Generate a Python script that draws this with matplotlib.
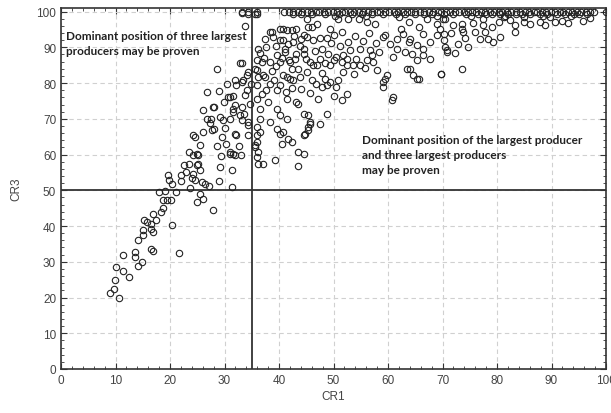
import matplotlib
matplotlib.use("Agg")
import matplotlib.pyplot as plt
from matplotlib.ticker import MultipleLocator

# concentration ratios (CR1 = largest producer, CR3 = three largest)
cr1_low = [8.9, 9.7, 9.9, 10, 10.6, 11.4, 12.4, 14.1, 14.8, 11.4, 13.6, 13.6, 14.1, 15, 15, 15.3,
           15.7, 16.6, 16.9, 16.6, 16.9, 17.5, 18.3, 18.8, 16.6, 16.9, 20.4, 21.7, 18, 19, 18.8,
           19.4, 20.1, 21.1, 19.7, 19.8, 20.3, 22, 22.1, 22.6, 22.9, 23.7, 24, 24.3, 24.6, 24.9,
           25.2, 25.5, 25.8, 26.4, 27.2, 25, 25.5, 26, 27.9, 28.9, 29.2, 31.3, 31.4, 31, 31.9, 33,
           25.2, 23.5, 24.3, 23.4, 24.9]
cr3_low = [21.3, 22.4, 25, 28.6, 20, 27.3, 25.7, 28.8, 30, 31.8, 32.7, 31.3, 36.2, 37.4, 39, 41.7,
           41, 40.6, 43.4, 39.2, 38.3, 41.6, 43.9, 45.1, 33.6, 33, 40.3, 32.4, 49.5, 49.8, 47.3,
           47.3, 47.3, 49.5, 54.3, 53, 51.8, 54.2, 52.6, 57, 55.1, 50.7, 53.4, 54.6, 52.8, 57,
           59.9, 55.6, 52.3, 51.8, 51.2, 46.7, 49, 47.6, 44.4, 52.6, 56.5, 55.6, 50.8, 60.2, 59.9, 59.8,
           57.3, 57.4, 59.8, 60.7, 60.2]

cr1_left = [33.8, 28.7, 32.8, 33.3, 26.7, 26.1, 28, 27.6, 29.2, 29.8, 28, 26.1, 24.6, 25.5, 29.5,
            32.2, 31, 31.6, 32.8, 33.2, 31, 31.6, 32.2, 31.9, 33.4, 34.1, 34.4, 34.4, 34.4, 31,
            31.6, 33.3, 34.4, 27.7, 30.7, 33.2, 34.1, 27.9, 31.9, 33.5, 33.2, 31.6, 26.7, 24.3,
            31.9, 34.4, 28.9, 29.9, 30.4, 30.1, 28.7, 27.3, 29.4, 30.3, 32.7, 33.7, 34.6, 34.9]
cr3_left = [96, 83.9, 85.7, 85.7, 77.5, 72.4, 73.3, 70, 70.5, 69.6, 67.2, 66.3, 64.9, 62.6, 64.9,
            65.4, 70, 71.9, 71, 73.3, 76, 76.5, 79.4, 80.8, 80.8, 78, 83.1, 69.1, 65.4, 60.7,
            60.2, 99.7, 99.4, 66.8, 76.1, 80.3, 82.2, 73.4, 73.8, 71.4, 69.6, 72.8, 70, 65.4,
            65.8, 68.2, 77.8, 74.6, 79.8, 67.4, 62.5, 68.8, 59.6, 62.9, 62.4, 76.7, 74.2, 79.6]

cr1_mid = [35.6, 35.9, 35.9, 35.6, 36.8, 37.7, 38.3, 40.2, 41.4, 40.8, 41.7, 41.1, 39.6, 38.3,
           40.2, 42, 43.2, 44.5, 45.1, 45.4, 43.2, 42.3, 43.5, 45.1, 46.3, 46, 43.9, 42.6, 41.4,
           39, 37.4, 36.2, 35.9, 37.7, 39.6, 35.9, 38, 36.5, 39.6, 41.4, 43.2, 40.2, 41.4, 36.5,
           35.9, 36.5, 35.9, 36.2, 39.6, 40.8, 44.8, 45.7, 45.4, 43.5, 47.2, 35.9, 35.6, 36.2,
           37.1, 39.3, 40.2, 40.5, 41.7, 42.3, 44.5, 44.5, 43.5, 45.4, 35.9, 38.7, 38.9, 40.8,
           42.3, 45.1, 46.9, 46, 49.4, 44.5, 46.3, 47.5, 48.8, 44.5, 44, 42.6, 41.1, 40.2, 48.4,
           48.8, 47.8, 43.5, 44.5, 48.8, 45.7, 47.5, 45.4, 38.3, 40.8, 42, 37.1, 35.9, 45.7,
           46.9, 47.5, 48.4, 49.4, 35.6,
           36.5, 37.2, 38.8, 39.5, 40.6, 41.8, 42.9, 43.8, 44.9, 46.6, 47.9, 48.9, 49.5, 36.9,
           38.3, 40.1, 41.2, 42.4, 44.1, 45.6, 46.8, 47.9, 49.3, 37.5, 39.4, 42.7, 36.2]
cr3_mid = [99.4, 99.4, 86.4, 84, 85.9, 90, 94.3, 95.2, 94.8, 92, 91, 88.7, 87.8, 85.9,
           85.9, 85.9, 88.2, 88.2, 92.9, 95.7, 95.2, 84, 84, 83.1, 85, 80.8, 81.7, 80.8, 81.7,
           80.8, 81.7, 81.7, 79.4, 78, 78, 75.6, 74.7, 72.8, 72.8, 75.6, 74.7, 71, 70, 70,
           67.7, 66.3, 63.5, 60.7, 67.2, 66.3, 65.8, 68.6, 71, 60.7, 75.6, 65.4, 62.1, 57.4,
           57.4, 58.4, 65.8, 63, 64.4, 63.5, 65.4, 60.2, 56.7, 66.8, 59.3, 94.3, 92.9, 95.2,
           94.8, 98, 96.6, 95.7, 95.2, 93.4, 92, 92.7, 92.7, 89.6, 92.4, 91.5, 89.6, 92, 81.2,
           79.4, 78.9, 74.2, 71.4, 71.4, 69.1, 68.6, 67.7, 69.1, 82.2, 81.2, 82.2, 83.6, 85.9,
           85, 86.8, 85.5, 85, 62.6,
           88.5, 86.9, 83.5, 84.8, 87, 86.5, 86.8, 90.5, 86.7, 89, 89.4, 88.2, 91.2, 76.8,
           79.6, 79.5, 77.4, 78.6, 78.2, 77.3, 79.8, 82.9, 80.2, 92.4, 90.5, 93.2, 89.6]

cr1_right = [50, 51.5, 50.9, 52.7, 54.6, 56.1, 57.6, 59.4, 61.6, 62.8, 64, 65.6, 67.1, 68.9, 70.1,
             63.8, 65.3, 66.5, 67.7, 68.9, 69.5, 61.6, 63.1, 64.4, 65.3, 66.5, 67.7, 63.4, 64.6,
             65.3, 69.8, 70.8, 61, 59.1, 56.7, 57, 56.1, 57.3, 57.9, 59.4, 59.1, 59.1, 59.8, 61,
             60.7, 54.9, 53, 52.4, 51.8, 54.2, 54.9, 53.6, 52.4, 51.5, 50.5, 50, 50.5, 52.4, 51.5,
             50, 65.6, 64, 70.5, 72, 73.5, 73.8, 73.5, 76, 77.5, 77.5, 77.8, 76.9, 78.4, 79.3,
             80.6, 80.3, 81.2, 83.3, 83.3, 86, 87.9, 90.6, 91.9, 95.8, 89.7, 70.2, 70.2, 70.5,
             70.8, 72.9, 74.7, 73.5, 69.8,
             51.2, 52.7, 53.9, 55.5, 56.6, 57.8, 58.3, 55.7, 53.8, 51.7, 50.8, 62.3, 63.9, 66.4,
             71.5, 72.3, 74.2, 75.6, 60.4, 79.1, 82.4, 84.9, 88.8, 93.1, 97]
cr3_right = [93.4, 94.3, 98, 98, 98, 97, 96.6, 93.4, 92.4, 93.8, 92.4, 95.7, 98, 96.6, 98,
             91.5, 90.6, 89.6, 91.5, 93.4, 95.2, 89.6, 88.7, 88.2, 86.4, 87.8, 86.8, 84, 82.2,
             81.2, 82.4, 88.7, 87.3, 92.9, 89.2, 87.8, 86.4, 86, 83.6, 81.2, 80.3, 78.9, 82.2, 76.1,
             75.2, 89.6, 89.2, 86.8, 87.8, 86.8, 85, 85, 85, 85.9, 87.3, 86.4, 78.9, 77, 75.2,
             76.5, 81.2, 84, 98, 96.2, 96.6, 94.3, 95.2, 94.3, 98, 96.2, 94.3, 92.4, 92.4, 91.5,
             92.9, 97.1, 98.5, 96.2, 94.3, 96.6, 97.1, 97.1, 97.5, 97.5, 98.5, 93.8, 92, 90.1,
             89.2, 91, 90.1, 84, 82.4,
             90.4, 91.6, 93.2, 91.8, 93.9, 91.2, 88.8, 84.2, 82.5, 83.1, 80.8, 95.1, 97.1, 93.6,
             93.9, 88.4, 92.6, 96.8, 90.9, 95.6, 97.6, 97.1, 96.2, 96.9, 98.1]

# the crowded band at CR3 = 100 (and just under it)
cr1_top = [33.3, 34.4, 36.0, 41.0, 41.9, 42.6, 43.5, 44.2, 45.1, 45.8, 46.7, 47.4, 48.3, 49.0,
           49.9, 50.6, 51.5, 52.2, 53.1, 53.8, 54.7, 55.4, 56.3, 57.0, 57.9, 58.6, 59.5, 60.2,
           61.1, 61.8, 62.7, 63.4, 64.3, 65.0, 65.9, 66.6, 67.5, 68.2, 69.1, 69.8, 70.7, 71.4,
           72.3, 73.0, 73.9, 74.6, 75.5, 76.2, 77.1, 77.8, 78.7, 79.4, 80.3, 81.0, 81.9, 82.6,
           83.5, 84.2, 85.1, 85.8, 86.7, 87.4, 88.3, 89.0, 89.9, 90.6, 91.5, 92.2, 93.1, 93.8,
           94.7, 95.4, 96.3, 97.0, 97.8, 100.0]
cr1_near = [42.5, 44.0, 46.1, 48.5, 51.0, 53.4, 55.2, 57.1, 59.0, 61.4, 63.1, 65.0, 66.6, 68.1,
            70.2, 72.0, 74.4, 76.6, 78.0, 79.1, 80.5, 82.1, 83.4, 84.6, 86.1, 87.9, 89.2, 91.0,
            92.4, 94.1, 95.0, 96.6, 50.2, 56.0, 62.1, 69.0, 75.2, 81.4, 85.0, 88.5, 93.6]
cr3_near = [99.3, 99.2, 99.4, 99.3, 99.2, 99.4, 99.3, 99.2, 99.4, 99.3, 99.2, 99.4, 99.3, 99.2,
            99.4, 99.3, 99.2, 99.4, 99.3, 99.2, 99.4, 99.3, 99.2, 99.4, 99.3, 99.2, 99.4, 99.3,
            99.2, 99.4, 99.3, 99.2, 98.7, 98.8, 98.6, 98.8, 98.7, 98.8, 98.6, 98.8, 98.7]

cr1_line = 35
cr3_line = 50

plt.rcParams['font.family'] = ['Liberation Sans', 'DejaVu Sans']

fig = plt.figure(figsize=(6.11, 4.14), dpi=100)
ax = fig.add_axes([61 / 611, 44 / 414, 545 / 611, 361 / 414])

x = cr1_low + cr1_left + cr1_mid + cr1_right + cr1_top + cr1_near
y = cr3_low + cr3_left + cr3_mid + cr3_right + [100] * len(cr1_top) + cr3_near
ax.plot(x, y, linestyle='none', marker='o', markersize=4.6, markerfacecolor='none',
        markeredgecolor='#222222', markeredgewidth=0.8, zorder=3)

ax.axvline(cr1_line, color='#333333', lw=1.3, zorder=2)
ax.axhline(cr3_line, color='#333333', lw=1.3, zorder=2)

ax.set_xlim(0, 100)
ax.set_ylim(0, 101)
ax.xaxis.set_major_locator(MultipleLocator(10))
ax.yaxis.set_major_locator(MultipleLocator(10))
ax.xaxis.set_minor_locator(MultipleLocator(2))
ax.yaxis.set_minor_locator(MultipleLocator(2))
ax.tick_params(which='both', direction='in', top=True, right=True, colors='#333333',
               labelcolor='#444444', labelsize=8.5)
ax.tick_params(which='major', length=4)
ax.tick_params(which='minor', length=2)
ax.grid(True, which='major', color='#d0d0d0', linestyle=(0, (4, 3)), lw=0.8, zorder=0)
for s in ax.spines.values():
    s.set_color('#333333')
    s.set_linewidth(1.2)

ax.set_xlabel('CR1', fontsize=8.5, color='#444444', labelpad=3)
ax.set_ylabel('CR3', fontsize=8.5, color='#444444', labelpad=10)

ax.text(0.9, 94.9, 'Dominant position of three largest\nproducers may be proven',
        fontsize=8.5, fontweight='bold', family='Lato', color='#222222', va='top',
        linespacing=1.45, zorder=4)
ax.text(55.3, 65.8, 'Dominant position of the largest producer\nand three largest producers\nmay be proven',
        fontsize=8.5, fontweight='bold', family='Lato', color='#222222', va='top',
        linespacing=1.45, zorder=4)

fig.savefig('out.png', dpi=100)
